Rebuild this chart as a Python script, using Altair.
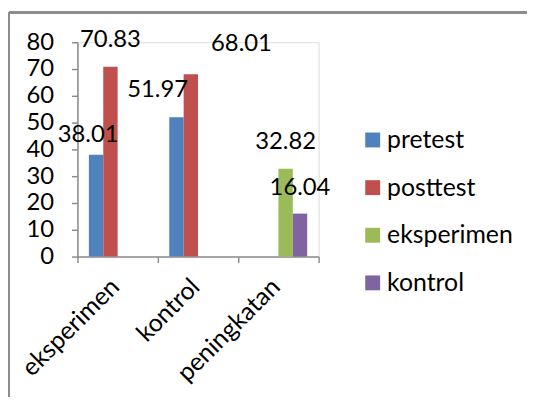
import altair as alt
import pandas as pd

categories = ["eksperimen", "kontrol", "peningkatan"]
series = ["pretest", "posttest", "eksperimen", "kontrol"]
colors = ["#4F81BD", "#C0504D", "#9BBB59", "#8064A2"]

bar_category = ["eksperimen", "eksperimen", "kontrol", "kontrol", "peningkatan", "peningkatan"]
bar_series = ["pretest", "posttest", "pretest", "posttest", "eksperimen", "kontrol"]
bar_value = [38.01, 70.83, 51.97, 68.01, 32.82, 16.04]
bar_label = ["38.01", "70.83", "51.97", "68.01", "32.82", "16.04"]

y_ticks = [0, 10, 20, 30, 40, 50, 60, 70, 80]

# label placement tweaks (style only)
label_dx = [-8, 0, -19, 51, 0, 0]
label_dy = [-20, -27, -27, -31, -27, -26]

FONT = "Lato"
FS = 24
GRAY = "#8c8c8c"
W, H = 243, 216

df = pd.DataFrame({"cat": bar_category, "ser": bar_series, "val": bar_value, "lab": bar_label})

x_enc = alt.X("cat:N", sort=categories,
              scale=alt.Scale(domain=categories, paddingInner=0, paddingOuter=0),
              axis=alt.Axis(title=None, labelAngle=315, labelAlign="right", labelBaseline="middle",
                            labelFontSize=25, labelFont=FONT, labelColor="black", labelPadding=20,
                            labelOffset=-3,
                            tickBand="extent", tickSize=6, tickColor=GRAY, domainColor=GRAY,
                            domainWidth=1.5, tickWidth=1.5, labelOverlap=False, grid=False))
xo_enc = alt.XOffset("ser:N", sort=series,
                     scale=alt.Scale(domain=series, paddingInner=0, paddingOuter=0.793))
y_enc = alt.Y("val:Q", scale=alt.Scale(domain=[0, 80], nice=False),
              axis=alt.Axis(title=None, values=y_ticks, grid=False, labelFontSize=FS,
                            labelFont=FONT, labelColor="black", labelPadding=18, tickSize=6,
                            tickColor=GRAY, domainColor=GRAY, domainWidth=1.5, tickWidth=1.5,
                            labelOverlap=False))

bars = alt.Chart(df).mark_bar().encode(
    x=x_enc, xOffset=xo_enc, y=y_enc,
    color=alt.Color("ser:N", sort=series, scale=alt.Scale(domain=series, range=colors),
                    legend=alt.Legend(title=None, orient="none", legendX=285, legendY=86,
                                      symbolType="square", symbolSize=225, symbolStrokeWidth=0,
                                      labelFontSize=25, labelFont=FONT, labelColor="black",
                                      rowPadding=22, labelOffset=2, padding=0))
)

layers = [bars]
for i in range(len(bar_value)):
    one = df.iloc[[i]]
    layers.append(
        alt.Chart(one).mark_text(fontSize=FS, font=FONT, color="black", baseline="middle",
                                 align="center", dx=label_dx[i], dy=label_dy[i]).encode(
            x=x_enc, xOffset=xo_enc, y=y_enc, text="lab:N")
    )

frame_top = alt.Chart(df).mark_rule(color=GRAY, strokeWidth=2).encode(
    x=alt.value(-69), x2=alt.value(460), y=alt.value(-30))
frame_left = alt.Chart(df).mark_rule(color=GRAY, strokeWidth=2).encode(
    x=alt.value(-69), y=alt.value(-30), y2=alt.value(360))
layers += [frame_top, frame_left]

chart = alt.layer(*layers).properties(
    width=W, height=H,
    padding={"left": 70, "top": 33, "right": 210, "bottom": 140},
    autosize=alt.AutoSizeParams(type="none"),
).configure_view(stroke=None).configure(font=FONT)

chart.save("out.html", embed_options={"renderer": "svg", "actions": False})
